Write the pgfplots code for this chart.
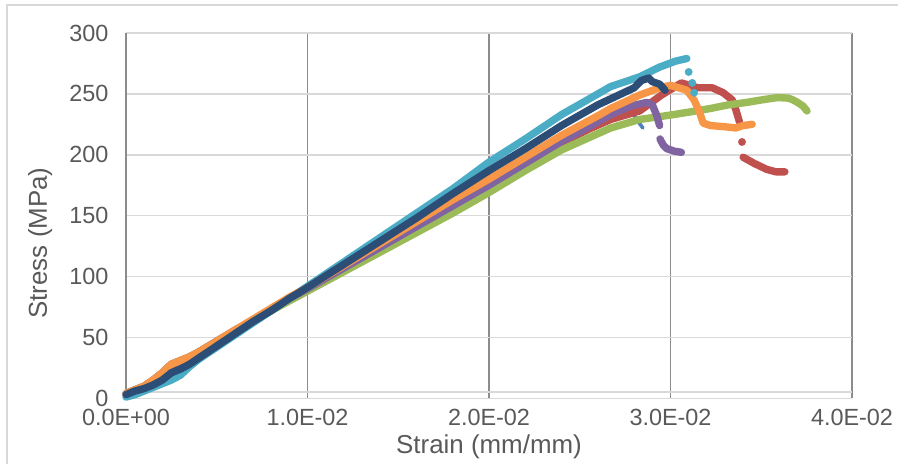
\documentclass[border=0pt]{standalone}
\usepackage{pgfplots}
\pgfplotsset{compat=1.18}
\usepackage{fontspec}
\setmainfont{Liberation Sans}
\definecolor{sA}{HTML}{4F81BD}
\definecolor{sB}{HTML}{C0504D}
\definecolor{sC}{HTML}{9BBB59}
\definecolor{sD}{HTML}{8064A2}
\definecolor{sE}{HTML}{4BACC6}
\definecolor{sF}{HTML}{F79646}
\definecolor{sG}{HTML}{2C4D75}
\definecolor{hgrid}{HTML}{D9D9D9}
\definecolor{vgrid}{HTML}{8C8C8C}
\definecolor{labelgray}{HTML}{595959}
\begin{document}
\begin{tikzpicture}
\path[use as bounding box] (-126bp,-65.7bp) rectangle (772bp,398.3bp);
\draw[hgrid, line width=2bp] (-119bp,-80bp) -- (-119bp,393.3bp) -- (790bp,393.3bp);
\begin{axis}[
  at={(0,0)}, anchor=south west,
  scale only axis, width=726bp, height=365.3bp,
  xmin=0, xmax=0.04, ymin=0, ymax=300,
  xtick={0,0.01,0.02,0.03,0.04},
  xticklabels={0.0E+00,1.0E-02,2.0E-02,3.0E-02,4.0E-02},
  ytick={0,50,100,150,200,250,300},
  scaled x ticks=false,
  /pgf/number format/assume math mode=true,
  xmajorgrids, ymajorgrids,
  x grid style={draw=vgrid, line width=1.6bp},
  y grid style={draw=hgrid, line width=1.6bp},
  axis line style={draw=none},
  major tick length=0pt,
  tick label style={font=\fontsize{23.5}{28}\selectfont, text=labelgray},
  xticklabel style={yshift=-7bp},
  yticklabel style={xshift=-14bp},
  clip=false,
  every axis plot/.append style={line join=round, line cap=round},
]
\draw[hgrid, line width=1.6bp] (axis cs:0,5.4) -- (axis cs:0.04,5.4);
\draw[vgrid, line width=1.6bp] (axis cs:0,0) -- (axis cs:0,300);

% Series 1 (blue)
\addplot[sA, line width=3.6bp] coordinates {
(0,4) (0.0005,7) (0.001,10) (0.0015,15) (0.002,20) (0.0025,27) (0.003,30) (0.004,37)
(0.005,46) (0.006,55) (0.007,64) (0.008,73) (0.009,81) (0.010,90) (0.012,107) (0.014,124)
(0.016,141) (0.018,158) (0.020,175) (0.022,193) (0.024,211) (0.0255,222) (0.0267,231)
(0.0274,235) (0.0278,237) (0.02815,228.5) (0.02848,222)
};
% Series 2 (red)
\addplot[sB, line width=7.4bp] coordinates {
(0,3) (0.0005,6) (0.001,9) (0.0015,14) (0.002,20) (0.0025,27) (0.003,30) (0.0035,33) (0.004,37)
(0.005,46) (0.006,55) (0.007,64) (0.008,72) (0.009,81) (0.010,89) (0.012,106) (0.014,123)
(0.016,140) (0.018,157) (0.020,174) (0.022,192) (0.024,210) (0.0255,221) (0.0267,229)
(0.0283,236) (0.0295,249) (0.0306,259) (0.0315,255) (0.0323,255) (0.0329,251) (0.0334,245)
(0.0336,237) (0.0338,227)
};
\addplot[sB, only marks, mark=*, mark size=3.7bp] coordinates {(0.03394,210.5)};
\addplot[sB, line width=7.4bp] coordinates {
(0.0340,198) (0.0346,193) (0.0353,188) (0.0358,186) (0.0363,186)
};
% Series 3 (green)
\addplot[sC, line width=7.4bp] coordinates {
(0,4) (0.0005,7) (0.001,10) (0.0015,15) (0.002,21) (0.0025,28) (0.003,31) (0.0035,34) (0.004,38)
(0.005,46) (0.006,55) (0.007,63) (0.008,72) (0.009,80) (0.010,88) (0.012,104) (0.014,120)
(0.016,136) (0.018,152) (0.020,169) (0.022,187) (0.024,204) (0.0255,214) (0.0267,222)
(0.0283,229) (0.0300,232.6) (0.0310,235) (0.0322,238) (0.0332,241) (0.0342,243) (0.0350,245)
(0.0359,247) (0.0365,246.5) (0.03675,245) (0.0370,243) (0.0373,240) (0.03752,236)
};
% Series 4 (purple)
\addplot[sD, line width=7.4bp] coordinates {
(0,4) (0.0005,7) (0.001,10) (0.0015,15) (0.002,21) (0.0025,28) (0.003,31) (0.0035,34) (0.004,38)
(0.005,47) (0.006,56) (0.007,64) (0.008,73) (0.009,82) (0.010,90) (0.012,107) (0.014,124)
(0.016,141) (0.018,158) (0.020,175) (0.022,193) (0.024,211) (0.0255,223) (0.0267,233)
(0.0278,240) (0.0287,243) (0.0290,241) (0.02925,232) (0.0294,224)
};
\addplot[sD, line width=7.4bp] coordinates {
(0.02942,213) (0.0296,208) (0.0298,205) (0.0302,203) (0.0306,202)
};
% Series 5 (cyan)
\addplot[sE, line width=7.4bp] coordinates {
(0,1) (0.0005,3) (0.001,6) (0.0015,9) (0.002,12) (0.0025,15) (0.003,19) (0.0035,26) (0.004,32)
(0.005,42) (0.006,52) (0.007,62) (0.008,72) (0.009,82) (0.010,92) (0.012,112) (0.014,132)
(0.016,152) (0.018,172) (0.020,194) (0.022,213) (0.024,233) (0.026,250) (0.0267,256)
(0.0283,264) (0.0294,272) (0.0303,277) (0.0309,279)
};
\addplot[sE, only marks, mark=*, mark size=3.7bp] coordinates {
(0.0310,268) (0.0312,259) (0.0313,251)
};
% Series 6 (orange)
\addplot[sF, line width=7.4bp] coordinates {
(0,4) (0.0005,7) (0.001,10) (0.0015,15) (0.002,21) (0.0025,28) (0.003,31) (0.0035,34) (0.004,38)
(0.005,47) (0.006,56) (0.007,65) (0.008,74) (0.009,83) (0.010,91) (0.012,109) (0.014,127)
(0.016,145) (0.018,163) (0.020,180) (0.022,198) (0.024,216) (0.026,232) (0.0267,238)
(0.0283,249) (0.0294,255) (0.0300,257) (0.0309,253) (0.0313,245) (0.0316,235) (0.0318,226)
(0.0322,224) (0.0330,223) (0.0336,222) (0.0340,224) (0.0345,225)
};
% Series 7 (navy)
\addplot[sG, line width=7.4bp] coordinates {
(0,3) (0.0005,6) (0.001,8) (0.0015,11) (0.002,15) (0.0025,21) (0.003,24) (0.0035,28) (0.004,33)
(0.005,43) (0.006,53) (0.007,63) (0.008,72) (0.009,82) (0.010,91) (0.012,110) (0.014,129)
(0.016,148) (0.018,168) (0.020,187) (0.022,205) (0.024,224) (0.026,241) (0.027,248)
(0.028,255) (0.0284,261) (0.0288,263) (0.029,260) (0.0294,258) (0.0297,253)
};
\end{axis}
\node[anchor=base, font=\fontsize{26}{31}\selectfont, text=labelgray] at (363bp,-54.7bp) {Strain (mm/mm)};
\node[anchor=base, rotate=90, font=\fontsize{26}{31}\selectfont, text=labelgray] at (-79bp,155.3bp) {Stress (MPa)};
\end{tikzpicture}
\end{document}
